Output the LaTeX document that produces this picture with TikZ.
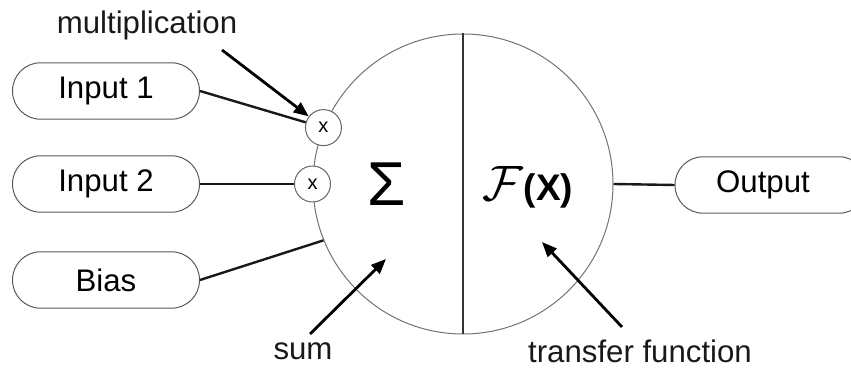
\documentclass[tikz,border=0pt]{standalone}
\usepackage{fontspec}
\setmainfont{Liberation Sans}
\usetikzlibrary{arrows.meta}
\begin{document}
\begin{tikzpicture}[x=0.5pt,y=-0.5pt,
  lbl/.style={font=\fontsize{15.6}{18}\selectfont, text=black!90, inner sep=0pt},
  pill/.style={draw=black!65, line width=0.5pt, rectangle, rounded corners=14pt,
    minimum width=93.5pt, minimum height=28.2pt, inner sep=0pt,
    font=\fontsize{15.6}{18}\selectfont},
  mult/.style={draw=black!60, fill=white, line width=0.5pt, circle, minimum size=18pt,
    inner sep=0pt, font=\fontsize{10}{11}\selectfont},
  conn/.style={line width=1.2pt, black!90},
  pointer/.style={line width=1.4pt, black, -{Triangle[length=7.5pt,width=6pt]}}
]
\useasboundingbox (0,0) rectangle (851,368);
% main neuron circle
\node[circle, draw=black!55, line width=0.5pt, minimum size=150pt, inner sep=0pt] (big) at (463,184) {};
\draw[line width=1.1pt, black!80] (big.north) -- (big.south);
\node[inner sep=0pt, font=\fontsize{31}{33}\selectfont] (sigma) at (387,184) {Σ};
\node[inner sep=0pt] (fx) at (528,187) {\fontsize{30}{32}\selectfont$\mathcal{F}$\fontsize{18.5}{20}\selectfont\bfseries(X)};
% inputs
\node[pill] (in1) at (106,91) {Input 1};
\node[pill] (in2) at (106,184) {Input 2};
\node[pill] (bias) at (106,280) {Bias};
\node[pill, minimum width=96pt] (out) at (771,185) {\hspace*{-8pt}Output};
% multiplication nodes
\node[mult] (m1) at (big.158) {x};
\node[mult] (m2) at (big.west) {x};
% connectors
\draw[conn] (in1.east) -- (m1);
\draw[conn] (in2.east) -- (m2);
\draw[conn] (bias.east) -- (big.202.8);
\draw[conn] (big.east) -- (out.west);
% labels
\node[lbl] (lmult) at (147,25) {multiplication};
\node[lbl] (lsum) at (303,351) {sum};
\node[lbl] (ltf) at (640,351) {transfer function};
\coordinate (ms) at (222,50);
\coordinate (ss) at (310,334);
\coordinate (se) at (386,259);
\coordinate (ts) at (622,327);
\coordinate (te) at (542,242);
\draw[pointer] (ms) -- (m1);
\draw[pointer] (ss) -- (se);
\draw[pointer] (ts) -- (te);
\end{tikzpicture}
\end{document}
